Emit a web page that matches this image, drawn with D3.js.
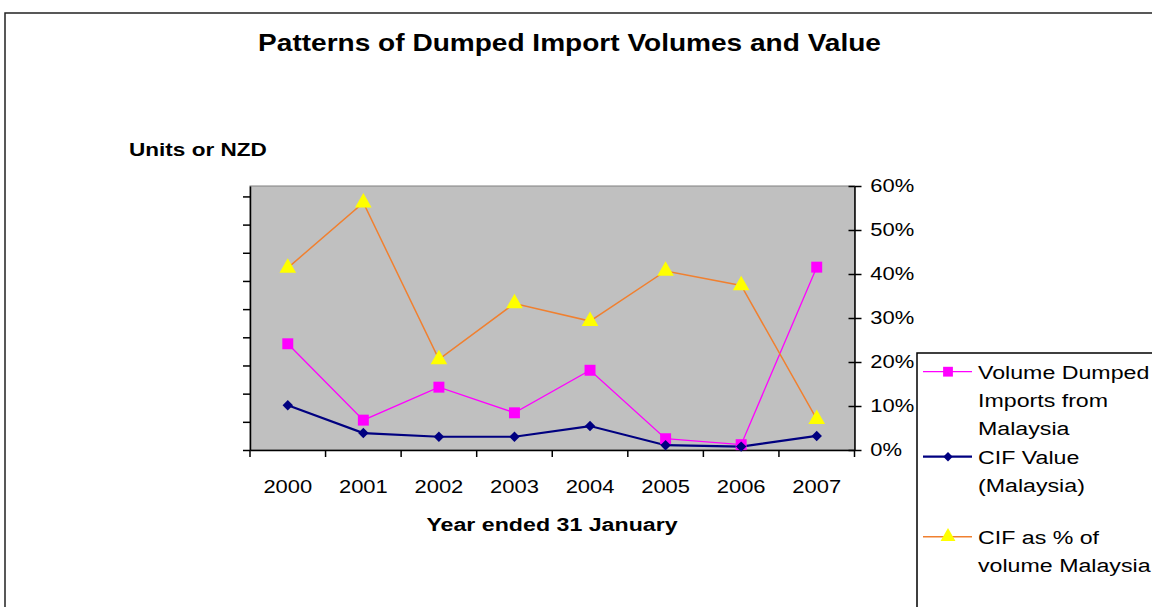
<!DOCTYPE html>
<html>
<head>
<meta charset="utf-8">
<script src="https://cdn.jsdelivr.net/npm/d3@7"></script>
<style>
    body { margin: 0; background: #fff; }
    svg { display: block; font-family: Arial, "Liberation Sans", sans-serif; }
</style>
</head>
<body>
<div id="chart"></div>
<script>
// data
var years = ["2000", "2001", "2002", "2003", "2004", "2005", "2006", "2007"];
// left axis (Units or NZD) - tick labels are blank in the original, values in tick steps
var volumeDumped = [3.77, 1.06, 2.23, 1.32, 2.83, 0.40, 0.19, 6.49];
var cifValue = [1.59, 0.60, 0.47, 0.47, 0.85, 0.17, 0.12, 0.50];
// right axis (percent)
var cifPercent = [0.414, 0.562, 0.206, 0.333, 0.293, 0.407, 0.374, 0.070];
var leftTicks = [0, 1, 2, 3, 4, 5, 6, 7, 8, 9];
var leftMax = 9.37;
var rightTicks = [0, 0.1, 0.2, 0.3, 0.4, 0.5, 0.6];
var legendLabels = [
    ["Volume Dumped", "Imports from", "Malaysia"],
    ["CIF Value", "(Malaysia)"],
    ["CIF as % of", "volume Malaysia"]
];

var width = 1152, height = 607;
var SX = 1.22; // the original text is drawn a bit wide

var plot = { left: 250, right: 854.5, top: 186, bottom: 450 };

var svg = d3.select("#chart").append("svg")
    .attr("width", width)
    .attr("height", height);

// outer chart border (only top and left edges show)
svg.append("path")
    .attr("d", "M5," + height + " L5,13 L" + width + ",13")
    .attr("fill", "none")
    .attr("stroke", "#222")
    .attr("stroke-width", 1.5);

function stretchedText(x, y, txt, size, weight, anchor) {
    return svg.append("text")
        .attr("transform", "translate(" + x + "," + y + ") scale(" + SX + ",1)")
        .attr("text-anchor", anchor || "start")
        .attr("font-size", size)
        .attr("font-weight", weight || "normal")
        .attr("fill", "#000")
        .text(txt);
}

var x = d3.scaleBand().domain(years).range([plot.left, plot.right]);
var yLeft = d3.scaleLinear().domain([0, leftMax]).range([plot.bottom, plot.top]);
var yRight = d3.scaleLinear().domain([0, 0.6]).range([plot.bottom, plot.top]);

// plot area
svg.append("rect")
    .attr("x", plot.left)
    .attr("y", plot.top)
    .attr("width", plot.right - plot.left)
    .attr("height", plot.bottom - plot.top)
    .attr("fill", "#c0c0c0")
    .attr("stroke", "#808080")
    .attr("stroke-width", 1);

// left axis, no labels
svg.append("g")
    .attr("transform", "translate(" + plot.left + ",0)")
    .call(d3.axisLeft(yLeft).tickValues(leftTicks).tickFormat("").tickSizeInner(7).tickSizeOuter(0))
    .call(function (g) {
        g.selectAll("line,path").attr("stroke", "#000").attr("stroke-width", 1.5);
    });

// right axis, ticks cross the line
var rightAxis = svg.append("g")
    .attr("transform", "translate(" + plot.right + ",0)")
    .call(d3.axisRight(yRight).tickValues(rightTicks).tickFormat(d3.format(".0%")).tickSizeInner(7).tickSizeOuter(0).tickPadding(6));
rightAxis.selectAll("line,path").attr("stroke", "#000").attr("stroke-width", 1.5);
rightAxis.selectAll("text")
    .attr("font-size", 18)
    .attr("font-family", "Arial, 'Liberation Sans', sans-serif")
    .attr("fill", "#000")
    .attr("transform", "scale(" + SX + ",1)");
svg.append("g")
    .attr("transform", "translate(" + plot.right + ",0)")
    .call(d3.axisRight(yRight).tickValues(rightTicks).tickFormat("").tickSizeInner(-6).tickSizeOuter(0))
    .call(function (g) {
        g.select("path").remove();
        g.selectAll("line").attr("stroke", "#000").attr("stroke-width", 1.5);
    });

// bottom axis: labels at centres, ticks at band edges
var bottomAxis = svg.append("g")
    .attr("transform", "translate(0," + plot.bottom + ")")
    .call(d3.axisBottom(x).tickSize(0).tickPadding(43));
bottomAxis.select("path").attr("stroke", "#000").attr("stroke-width", 1.5);
bottomAxis.selectAll("text")
    .attr("font-size", 18)
    .attr("font-family", "Arial, 'Liberation Sans', sans-serif")
    .attr("fill", "#000")
    .attr("dy", "0")
    .attr("transform", "scale(" + SX + ",1)");
var edges = years.map(function (d) { return x(d); }).concat([x.range()[1]]);
svg.append("g").selectAll("line")
    .data(edges)
    .enter().append("line")
    .attr("x1", function (d) { return d; })
    .attr("x2", function (d) { return d; })
    .attr("y1", plot.bottom)
    .attr("y2", plot.bottom + 7)
    .attr("stroke", "#000")
    .attr("stroke-width", 1.5);

// series
var series = [
    { name: "vol", values: volumeDumped, scale: yLeft, line: "#ff00ff", fill: "#ff00ff", width: 1.3, shape: d3.symbolSquare, size: 120, rot: 0 },
    { name: "cif", values: cifValue, scale: yLeft, line: "#000080", fill: "#000080", width: 2.2, shape: d3.symbolSquare, size: 55, rot: 45 },
    { name: "pct", values: cifPercent, scale: yRight, line: "#f08030", fill: "#ffff00", width: 1.5, shape: d3.symbolTriangle, size: 120, rot: 0 }
];

var cx = function (i) { return x(years[i]) + x.bandwidth() / 2; };

series.forEach(function (s) {
    var line = d3.line()
        .x(function (d, i) { return cx(i); })
        .y(function (d) { return s.scale(d); });
    svg.append("path")
        .datum(s.values)
        .attr("d", line)
        .attr("fill", "none")
        .attr("stroke", s.line)
        .attr("stroke-width", s.width);
});
series.forEach(function (s) {
    svg.append("g").selectAll("path")
        .data(s.values)
        .enter().append("path")
        .attr("d", d3.symbol().type(s.shape).size(s.size))
        .attr("transform", function (d, i) { return "translate(" + cx(i) + "," + s.scale(d) + ") rotate(" + s.rot + ")"; })
        .attr("fill", s.fill);
});

// texts
stretchedText(569.5, 51, "Patterns of Dumped Import Volumes and Value", 23, "bold", "middle");
stretchedText(129, 156, "Units or NZD", 18.5, "bold", "start");
stretchedText(552, 531, "Year ended 31 January", 19, "bold", "middle");

// legend
var legend = svg.append("g");
legend.append("rect")
    .attr("x", 917)
    .attr("y", 353)
    .attr("width", 300)
    .attr("height", 300)
    .attr("fill", "#fff")
    .attr("stroke", "#000")
    .attr("stroke-width", 1.5);

var legendRows = [371.7, 456.7, 536.7];
var lineGap = 28.3;
series.forEach(function (s, k) {
    var ly = legendRows[k];
    legend.append("line")
        .attr("x1", 923).attr("x2", 972)
        .attr("y1", ly).attr("y2", ly)
        .attr("stroke", s.line)
        .attr("stroke-width", s.width);
    legend.append("path")
        .attr("d", d3.symbol().type(s.shape).size(s.size * 0.8))
        .attr("transform", "translate(948," + ly + ") rotate(" + s.rot + ")")
        .attr("fill", s.fill);
    legendLabels[k].forEach(function (t, j) {
        stretchedText(978, ly + 7 + j * lineGap, t, 19, "normal", "start");
    });
});
</script>
</body>
</html>
